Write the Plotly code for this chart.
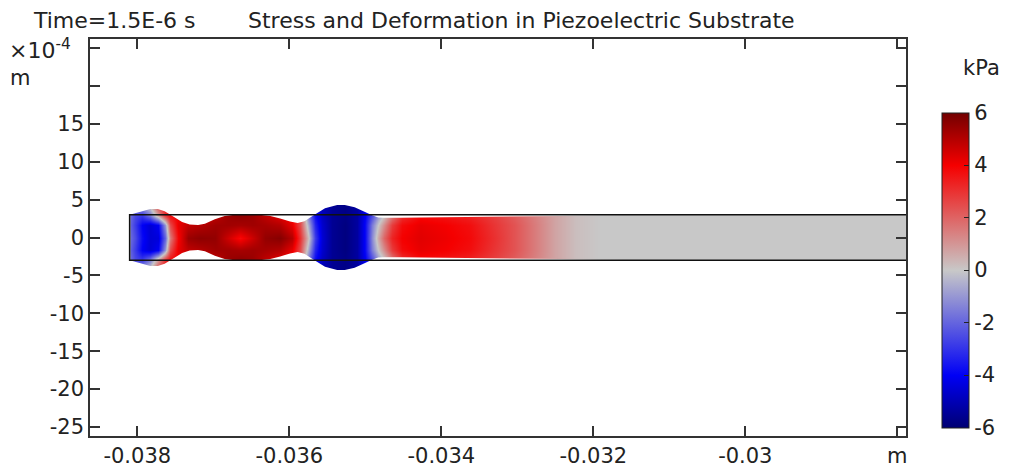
import plotly.graph_objects as go

# ---------------- data ----------------
# x positions of stress samples along the substrate (m)
x_cols = [-0.03810, -0.03803, -0.03794, -0.03783, -0.03773, -0.03764, -0.03757, -0.03746,
          -0.03733, -0.03718, -0.03698, -0.03681, -0.03665, -0.03649, -0.03632, -0.03612,
          -0.03596, -0.03586, -0.03575, -0.03566, -0.03557, -0.03544, -0.03527, -0.03511,
          -0.03500, -0.03491, -0.03483, -0.03475, -0.03465, -0.03452, -0.03428, -0.03395,
          -0.03362, -0.03329, -0.03303, -0.03277, -0.03250, -0.03224, -0.03191, -0.02750]

# stress (kPa) on the centre line, at |y|=1.6, |y|=3.0 and |y|=4.3 (x1e-4 m)
stress_center = [-1.8, -2.5, -3.8, -4.5, -4.4, -2.0, 1.5, 3.9, 5.4, 5.6, 5.5, 4.6, 3.8, 4.6,
                 5.5, 5.7, 5.0, 3.0, 0.3, -2.8, -4.5, -5.5, -5.8, -5.3, -3.8, -1.2, 0.6, 2.0,
                 3.3, 4.0, 4.3, 4.1, 3.8, 3.0, 2.3, 1.5, 0.7, 0.2, 0.0, 0.0]
stress_mid = [-2.0, -2.8, -4.0, -4.5, -4.0, -1.0, 2.5, 4.2, 4.8, 5.0, 5.3, 5.3, 5.2, 5.3,
              5.2, 5.0, 4.2, 2.5, -0.5, -3.3, -4.6, -5.5, -5.8, -5.3, -3.8, -1.5, 0.0, 1.2,
              2.8, 3.8, 4.2, 4.0, 3.7, 2.9, 2.3, 1.5, 0.7, 0.2, 0.0, 0.0]
stress_edge = [-1.8, -2.5, -2.8, -1.5, 1.0, 3.0, 3.8, 4.0, 4.2, 4.3, 4.8, 5.4, 5.6, 5.4,
               4.8, 4.2, 3.8, 2.5, -1.5, -3.8, -4.8, -5.5, -5.7, -5.3, -4.0, -2.5, -1.0, 0.0,
               1.5, 3.0, 3.8, 3.6, 3.3, 2.7, 2.1, 1.4, 0.7, 0.2, 0.0, 0.0]
stress_outer = [-1.0, -1.0, -0.5, 0.5, 2.5, 3.5, 3.8, 4.0, 4.2, 4.3, 4.8, 5.4, 5.6, 5.4,
                4.8, 4.2, 3.8, 2.5, -2.0, -4.0, -5.0, -5.5, -5.7, -5.3, -4.5, -3.0, -1.5, 0.0,
                1.5, 3.0, 3.8, 3.6, 3.3, 2.7, 2.1, 1.4, 0.7, 0.2, 0.0, 0.0]
row_y = [-4.3, -3.0, -1.6, 0.0, 1.6, 3.0, 4.3]   # x1e-4 m

# deformed half-thickness of the substrate (x1e-4 m)
prof_x = [-0.03810, -0.03803, -0.03794, -0.03783, -0.03773, -0.03764, -0.03757, -0.03750,
          -0.03741, -0.03731, -0.03720, -0.03711, -0.03698, -0.03685, -0.03672, -0.03639,
          -0.03625, -0.03612, -0.03599, -0.03589, -0.03580, -0.03570, -0.03562, -0.03553,
          -0.03537, -0.03527, -0.03514, -0.03500, -0.03491, -0.03483, -0.03475, -0.03454,
          -0.03389, -0.03297, -0.03244, -0.03191, -0.03125, -0.02750]
prof_top = [3.0, 3.2, 3.5, 3.75, 3.75, 3.45, 3.05, 2.6, 2.05, 1.7, 1.65, 1.8, 2.4, 2.85,
            3.0, 3.0, 2.85, 2.5, 2.1, 1.9, 2.15, 2.8, 3.35, 3.85, 4.3, 4.3, 4.0, 3.3,
            2.95, 2.65, 2.6, 2.6, 2.65, 2.75, 2.85, 2.95, 3.0, 3.0]

# undeformed substrate outline
sub_x0 = -0.0381
sub_x1 = -0.0275
sub_half = 3.0
mask_lim = 5.5

x_ticks = [-0.038, -0.036, -0.034, -0.032, -0.030, -0.028]
x_ticktext = ['-0.038', '-0.036', '-0.034', '-0.032', '-0.03', 'm']
y_ticks = [-25, -20, -15, -10, -5, 0, 5, 10, 15]
y_ticktext = ['-25', '-20', '-15', '-10', '-5', '0', '5', '10', '15']
y_unlabeled_ticks = [20, 25]
cb_ticks = [-6, -4, -2, 0, 2, 4, 6]
cb_ticktext = ['-6', '-4', '-2', '0', '2', '4', '6']

# ---------------- figure ----------------
z = [stress_outer, stress_edge, stress_mid, stress_center, stress_mid, stress_edge, stress_outer]
prof_bot = [-h for h in prof_top]

wave = [[0.0, 'rgb(0,0,115)'], [0.1667, 'rgb(0,0,245)'], [0.5, 'rgb(200,200,200)'],
        [0.8333, 'rgb(245,0,0)'], [1.0, 'rgb(115,0,0)']]

FONT = 'DejaVu Sans'
fig = go.Figure()
fig.add_trace(go.Heatmap(
    x=x_cols, y=row_y, z=z, zsmooth='best', colorscale=wave, zmin=-6, zmax=6,
    hoverinfo='skip',
    colorbar=dict(x=(941.5 - 90) / 816, xanchor='left', xpad=0, ypad=0,
                  y=(436 - 270) / 397, yanchor='middle', lenmode='pixels', len=315,
                  thickness=27, outlinewidth=1, outlinecolor='#222',
                  tickvals=cb_ticks, ticktext=cb_ticktext, ticks='inside', ticklen=5,
                  tickcolor='#222',
                  tickfont=dict(family=FONT, size=21, color='#222'))))

mask_style = dict(mode='lines', line=dict(width=0, color='white'), hoverinfo='skip',
                  showlegend=False)
fig.add_trace(go.Scatter(x=prof_x, y=prof_top, **mask_style))
fig.add_trace(go.Scatter(x=prof_x, y=[mask_lim] * len(prof_x), fill='tonexty',
                         fillcolor='white', **mask_style))
fig.add_trace(go.Scatter(x=prof_x, y=prof_bot, **mask_style))
fig.add_trace(go.Scatter(x=prof_x, y=[-mask_lim] * len(prof_x), fill='tonexty',
                         fillcolor='white', **mask_style))
# strip left of the substrate (overlaps the outline by a hair to hide seams)
fig.add_trace(go.Scatter(x=[sub_x0 - 0.0006, sub_x0 + 0.00001, sub_x0 + 0.00001, sub_x0 - 0.0006],
                         y=[-mask_lim, -mask_lim, mask_lim, mask_lim], fill='toself',
                         fillcolor='white', **mask_style))
fig.add_trace(go.Scatter(x=[sub_x1, sub_x0, sub_x0, sub_x1],
                         y=[sub_half, sub_half, -sub_half, -sub_half], mode='lines',
                         line=dict(color='#111', width=1.6), hoverinfo='skip',
                         showlegend=False))

axis_common = dict(showline=True, linecolor='#333', linewidth=1.5, mirror='ticks',
                   ticks='inside', ticklen=10, tickwidth=1.5, tickcolor='#333',
                   showgrid=False, zeroline=False,
                   tickfont=dict(family=FONT, size=21, color='#222'))
fig.update_layout(
    width=1009, height=470,
    margin=dict(l=90, r=103, t=39, b=34, autoexpand=False),
    paper_bgcolor='white', plot_bgcolor='white', showlegend=False,
    font=dict(family=FONT, color='#222'),
    xaxis=dict(range=[-0.038622, -0.027886], tickvals=x_ticks, ticktext=x_ticktext,
               automargin=False, **axis_common),
    yaxis=dict(range=[-26.2, 26.2], tickvals=y_ticks, ticktext=y_ticktext,
               automargin=False,
               minor=dict(tickmode='array', tickvals=y_unlabeled_ticks, ticks='inside',
                          ticklen=10, tickwidth=1.5, tickcolor='#333', showgrid=False),
               **axis_common),
)

def ann(text, px, py, size, xanchor='left'):
    fig.add_annotation(text=text, xref='paper', yref='paper', x=(px - 90) / 816,
                       y=(436 - py) / 397, xanchor=xanchor, yanchor='middle',
                       showarrow=False, font=dict(family=FONT, size=size, color='#222'))

ann('Time=1.5E-6 s', 31, 20, 22)
ann('Stress and Deformation in Piezoelectric Substrate', 246, 20, 22)
ann('×10<sup>-4</sup>', 7, 49, 22)
ann('m', 8, 78, 21)
ann('kPa', 982, 68, 21, 'center')

fig.write_html('out.html')
